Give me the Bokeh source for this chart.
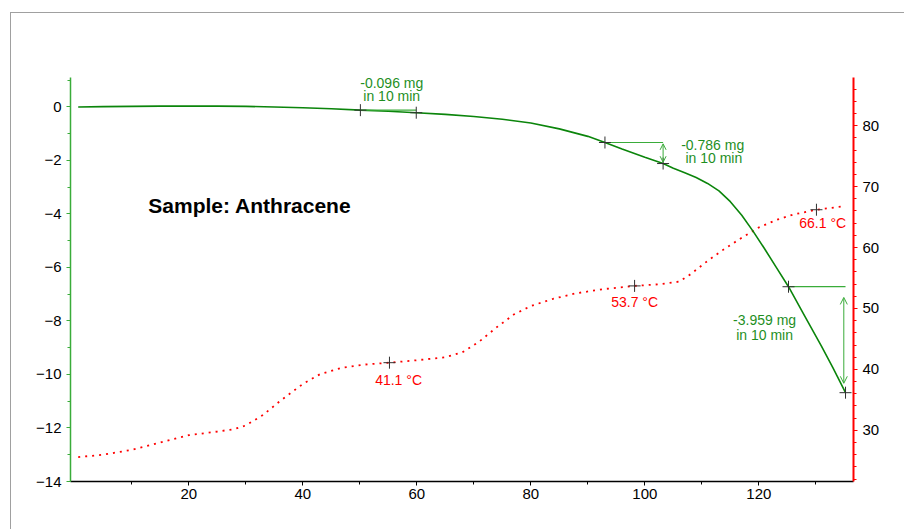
from bokeh.plotting import figure
from bokeh.models import (Range1d, LinearAxis, SingleIntervalTicker, FixedTicker,
                          Label, Arrow, OpenHead)
from bokeh.embed import file_html
from bokeh.resources import INLINE

# ---- data ----
time_tg = [0.6, 5, 10, 15, 20, 25, 30, 35, 40, 45, 50.1, 55, 59.9, 65, 70, 75, 80, 85, 90,
           93.0, 96, 100, 103.2, 105, 107, 109, 111, 113, 115, 117, 119, 121, 123, 125.2, 128, 131, 133, 135.2]
tg_mg = [0.0, 0.01, 0.02, 0.03, 0.03, 0.03, 0.02, 0.0, -0.03, -0.07, -0.12, -0.16, -0.216, -0.28, -0.36,
         -0.46, -0.6, -0.82, -1.1, -1.33, -1.57, -1.88, -2.116, -2.29, -2.46, -2.64, -2.86, -3.14, -3.54,
         -4.05, -4.65, -5.3, -5.98, -6.72, -7.8, -8.95, -9.75, -10.68]

time_temp = [0.6, 5, 10, 15, 20, 25, 28, 30, 33, 36, 40, 43, 47, 51, 55.2, 60, 65, 68, 71, 74, 77, 80,
             84, 88, 93, 98.2, 103, 106, 108, 111, 114, 117, 120, 123, 126, 130.1, 135.2]
temp_c = [25.6, 26.0, 26.8, 28.0, 29.2, 29.8, 30.2, 30.8, 32.5, 34.8, 37.6, 39.2, 40.3, 40.8, 41.1, 41.5,
          42.0, 42.8, 44.6, 46.9, 49.0, 50.4, 51.6, 52.5, 53.2, 53.7, 54.0, 54.4, 55.6, 57.8, 59.8, 61.6,
          63.3, 64.5, 65.4, 66.2, 66.8]

tg_mark_t = [50.1, 59.9, 93.0, 103.2, 125.2, 135.2]
tg_mark_v = [-0.12, -0.216, -1.33, -2.116, -6.72, -10.68]
temp_mark_t = [55.2, 98.2, 130.1]
temp_mark_v = [41.1, 53.7, 66.2]
temp_mark_txt = ["41.1 °C", "53.7 °C", "66.1 °C"]
step_txt = ["-0.096 mg", "-0.786 mg", "-3.959 mg"]
x_ticks = [20, 40, 60, 80, 100, 120]

FONT = "Liberation Sans"
GREEN = "#0b850b"
LGREEN = "#3aac3a"
TGREEN = "#1f8f1f"
RED = "#ff0000"

p = figure(frame_width=783, frame_height=404, x_range=Range1d(-0.75, 136.6),
           y_range=Range1d(-14, 1.1), output_backend="svg", toolbar_location=None,
           min_border_left=59, min_border_right=51, min_border_top=64, min_border_bottom=48,
           styles={"border-left": "1px solid #a0a0a0", "border-top": "1px solid #a0a0a0",
                   "margin-left": "10px", "margin-top": "12px"})
p.outline_line_color = None
p.xgrid.visible = False
p.ygrid.visible = False
p.background_fill_color = "white"
p.border_fill_color = "white"

p.extra_y_ranges = {"temp": Range1d(21.6, 87.9)}

# left axis
ya = p.yaxis[0]
ya.ticker = SingleIntervalTicker(interval=2, num_minor_ticks=2)
ya.axis_line_color = LGREEN
ya.axis_line_width = 1.5
ya.major_tick_line_color = LGREEN
ya.minor_tick_line_color = LGREEN
ya.major_tick_in = 0
ya.major_tick_out = 4
ya.minor_tick_in = 0
ya.minor_tick_out = 3
ya.major_label_text_font = FONT
ya.major_label_text_font_size = "15px"
ya.major_label_text_color = "black"
ya.major_label_standoff = 5

# bottom axis
xa = p.xaxis[0]
xa.ticker = FixedTicker(ticks=x_ticks, minor_ticks=[10, 20, 30, 40, 50, 60, 70, 80, 90, 100, 110, 120, 130])
xa.axis_line_color = "black"
xa.axis_line_width = 1.5
xa.major_tick_line_color = "black"
xa.minor_tick_line_color = "black"
xa.major_tick_in = 0
xa.major_tick_out = 4
xa.minor_tick_in = 0
xa.minor_tick_out = 3
xa.major_label_text_font = FONT
xa.major_label_text_font_size = "15px"
xa.major_label_text_color = "black"
xa.major_label_standoff = 3

# right axis
ra = LinearAxis(y_range_name="temp", ticker=SingleIntervalTicker(interval=10, num_minor_ticks=5))
ra.axis_line_color = RED
ra.axis_line_width = 2
ra.major_tick_line_color = RED
ra.minor_tick_line_color = RED
ra.major_tick_in = 0
ra.major_tick_out = 4
ra.minor_tick_in = 0
ra.minor_tick_out = 3
ra.major_label_text_font = FONT
ra.major_label_text_font_size = "15px"
ra.major_label_text_color = "black"
ra.major_label_standoff = 5
p.add_layout(ra, "right")

# curves
p.line(time_temp, temp_c, y_range_name="temp", line_color=RED, line_width=1.8, line_dash="2 5")
p.line(time_tg, tg_mg, line_color=GREEN, line_width=1.6)

# step annotations (lines from markers)
p.segment(x0=[tg_mark_t[0], tg_mark_t[2], tg_mark_t[4]],
          y0=[tg_mark_v[0], tg_mark_v[2], tg_mark_v[4]],
          x1=[tg_mark_t[1], tg_mark_t[3], tg_mark_t[5]],
          y1=[tg_mark_v[0], tg_mark_v[2], tg_mark_v[4]],
          line_color=LGREEN, line_width=1.2)
p.add_layout(Arrow(start=OpenHead(size=6, line_color=LGREEN, line_width=1),
                   end=OpenHead(size=6, line_color=LGREEN, line_width=1),
                   x_start=tg_mark_t[3], y_start=tg_mark_v[2] - 0.05,
                   x_end=tg_mark_t[3], y_end=tg_mark_v[3] + 0.05,
                   line_color=LGREEN, line_width=1))
p.add_layout(Arrow(start=OpenHead(size=7, line_color=LGREEN, line_width=1),
                   end=OpenHead(size=7, line_color=LGREEN, line_width=1),
                   x_start=tg_mark_t[5] - 0.3, y_start=tg_mark_v[4] - 0.4,
                   x_end=tg_mark_t[5] - 0.3, y_end=tg_mark_v[5] + 0.35,
                   line_color=LGREEN, line_width=1))

# markers
p.scatter(tg_mark_t, tg_mark_v, marker="cross", size=12, line_color="#303030", line_width=1)
p.scatter(temp_mark_t, temp_mark_v, y_range_name="temp", marker="cross", size=12,
          line_color="#303030", line_width=1)

def lab(x, y, t, color="black", size="14px", style="normal", align="center", rng="default",
        baseline="middle"):
    p.add_layout(Label(x=x, y=y, text=t, text_color=color, text_font=FONT, text_font_size=size,
                       text_font_style=style, text_align=align, text_baseline=baseline,
                       y_range_name=rng, level="overlay"))

# step texts
lab(55.6, 0.9, step_txt[0], TGREEN)
lab(55.6, 0.42, "in 10 min", TGREEN)
lab(111.9, -1.42, step_txt[1], TGREEN)
lab(112.1, -1.9, "in 10 min", TGREEN)
lab(121.0, -7.96, step_txt[2], TGREEN)
lab(121.0, -8.54, "in 10 min", TGREEN)

# temperature texts
lab(56.8, 38.2, temp_mark_txt[0], RED, rng="temp")
lab(98.2, 51.0, temp_mark_txt[1], RED, rng="temp")
lab(131.2, 64.05, temp_mark_txt[2], RED, rng="temp")

# sample label
lab(12.9, -3.69, "Sample: Anthracene", "black", size="21px", style="bold", align="left")

# axis titles
lab(-0.75, 2.2, "TG /mg", "black", size="15px")
lab(136.6, 2.2, "Temp. /°C", "black", size="15px")
lab(68.0, -15.2, "Time /min", "black", size="15px")

open("out.html", "w").write(file_html(p, INLINE))
